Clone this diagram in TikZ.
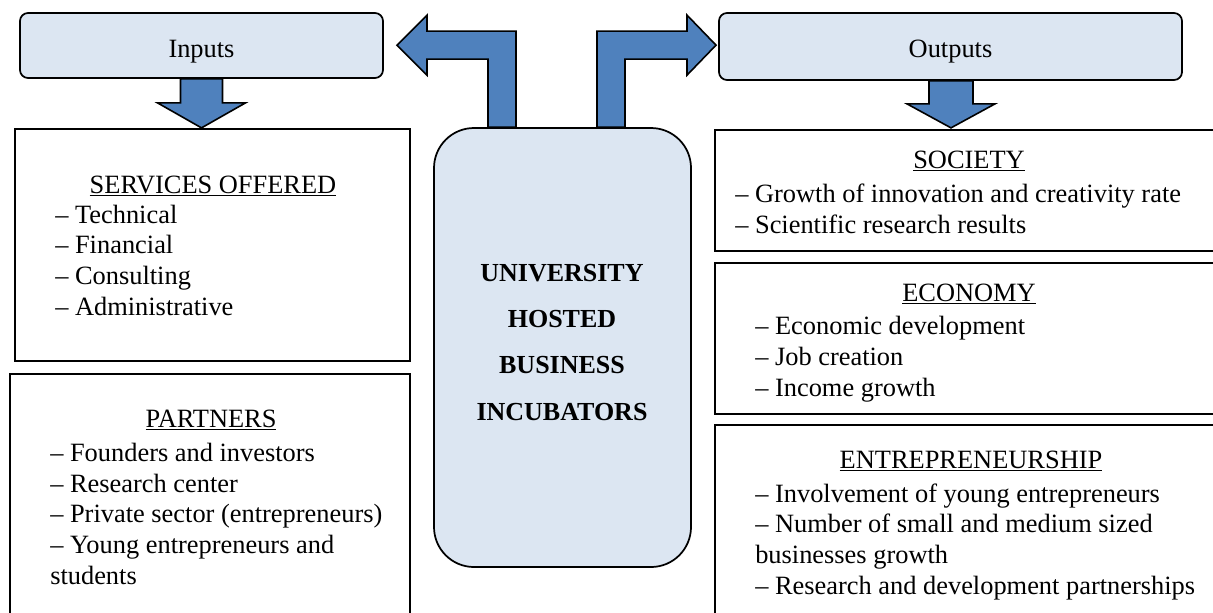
\documentclass[tikz,border=0pt]{standalone}
\usepackage{fontspec}
\setmainfont{Liberation Serif}
\usetikzlibrary{fit}

\definecolor{boxblue}{RGB}{220,230,242}
\definecolor{arrowblue}{RGB}{79,129,189}

\tikzset{
  plainbox/.style={draw, line width=1.3pt, inner sep=0pt},
  bluebox/.style={plainbox, fill=boxblue, rounded corners=6pt},
  hubbox/.style={plainbox, fill=boxblue, rounded corners=30pt},
  blockarrow/.style={draw, fill=arrowblue, line width=1.2pt, line join=miter},
  txt/.style={inner sep=0pt, font=\fontsize{19.8}{23}\selectfont},
  boxtitle/.style={txt, anchor=base},
  % lists are placed by the baseline of their last line
  boxlist/.style={txt, anchor=base west, align=left},
}

\begin{document}
\begin{tikzpicture}[x=0.75pt, y=-0.75pt]
    \useasboundingbox (0,0) rectangle (1213,612);

    % Top boxes
    \node[bluebox, fit={(20,13) (383,78)}] (inputs) {};
    \node[bluebox, fit={(719,13) (1182,80)}] (outputs) {};
    \node[boxtitle] (inlabel) at (201.5,57) {Inputs};
    \node[boxtitle] (outlabel) at (950.5,57) {Outputs};

    % Incubator in the middle
    \node[hubbox, fit={(434,128) (691,567)}] (incub) {};
    \node[txt, anchor=base, align=center,
          font=\bfseries\fontsize{19.5}{34.7}\selectfont] (incublabel)
        at (562,420) {UNIVERSITY\\HOSTED\\BUSINESS\\INCUBATORS};

    % Left side boxes
    \node[plainbox, fit={(15,129) (410,361)}] (services) {};
    \node[plainbox, fit={(10,374) (410,625)}] (partners) {};

    \node[boxtitle] (servtitle) at (213,193) {\underline{SERVICES OFFERED}};
    \node[boxlist] (servlist) at (55,315)
        {-- Technical\\-- Financial\\-- Consulting\\-- Administrative};

    \node[boxtitle] (parttitle) at (211,427) {\underline{PARTNERS}};
    \node[boxlist] (partlist) at (50,584)
        {-- Founders and investors\\-- Research center\\-- Private sector (entrepreneurs)\\-- Young entrepreneurs and\\students};

    % Right side boxes
    \node[plainbox, fit={(715,130) (1225,251)}] (society) {};
    \node[plainbox, fit={(715,263) (1225,414)}] (economy) {};
    \node[plainbox, fit={(715,425) (1225,625)}] (entre) {};

    \node[boxtitle] (soctitle) at (969,168) {\underline{SOCIETY}};
    \node[boxlist] (soclist) at (735,233)
        {-- Growth of innovation and creativity rate\\-- Scientific research results};

    \node[boxtitle] (ecotitle) at (969,301) {\underline{ECONOMY}};
    \node[boxlist] (ecolist) at (755,396)
        {-- Economic development\\-- Job creation\\-- Income growth};

    \node[boxtitle] (entretitle) at (971,468) {\underline{ENTREPRENEURSHIP}};
    \node[boxlist] (entrelist) at (755,594)
        {-- Involvement of young entrepreneurs\\-- Number of small and medium sized\\businesses growth\\-- Research and development partnerships};

    % Block arrows
    \draw[blockarrow] (inputs.south) ++(-21,0) -- ++(0,24) -- ++(-23,0)
        -- ++(44,25) -- ++(44,-25) -- ++(-23,0) -- ++(0,-24) -- cycle;
    \draw[blockarrow] (outputs.south) ++(-21.5,0) -- ++(0,23) -- ++(-22,0)
        -- ++(44,24) -- ++(44,-24) -- ++(-22,0) -- ++(0,-23) -- cycle;

    \draw[blockarrow] (incub.north) ++(-74.5,0) -- ++(0,-68) -- ++(-61,0)
        -- ++(0,16) -- ++(-30,-30) -- ++(30,-30) -- ++(0,16) -- ++(89,0)
        -- ++(0,96) -- cycle;
    \draw[blockarrow] (incub.north) ++(34.5,0) -- ++(0,-96) -- ++(90,0)
        -- ++(0,-16) -- ++(29,30) -- ++(-29,30) -- ++(0,-16) -- ++(-62,0)
        -- ++(0,68) -- cycle;
\end{tikzpicture}
\end{document}
